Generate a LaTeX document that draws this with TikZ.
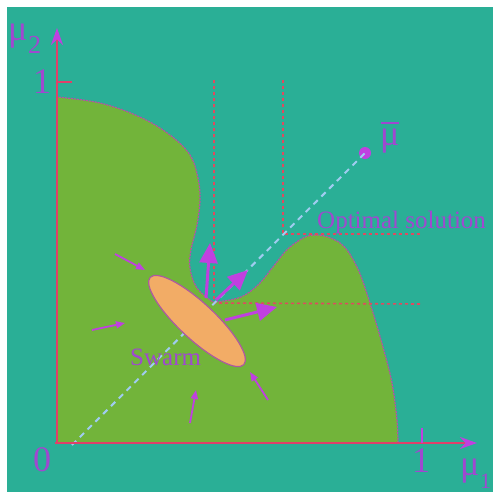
\documentclass[tikz,border=0pt]{standalone}
\usepackage{fontspec}
\setmainfont{Liberation Serif}
\usetikzlibrary{arrows.meta}
\definecolor{bgteal}{HTML}{2AAF96}
\definecolor{feas}{HTML}{72B43A}
\definecolor{swarmc}{HTML}{F2AC66}
\definecolor{mag}{HTML}{C040E0}
\definecolor{axisred}{HTML}{E0406A}
\definecolor{dashred}{HTML}{E04A60}
\definecolor{diagc}{HTML}{A0CCF0}
\definecolor{txt}{HTML}{A048D0}
\definecolor{edge}{HTML}{B850A8}
\begin{document}
\begin{tikzpicture}[x=1pt,y=-1pt,
  bigarrow/.style={draw=mag, line width=3pt, -{Triangle[length=20pt,width=18pt]}},
  smallarrow/.style={draw=mag, line width=1.8pt, -{Triangle[length=9pt,width=7pt]}},
  guide/.style={draw=dashred, line width=1.6pt, dash pattern=on 3pt off 3pt},
  axisline/.style={draw=axisred, line width=2pt, -{Stealth[length=17pt,width=12pt,color=mag]}},
  lbl/.style={text=txt, inner sep=0pt},
  biglbl/.style={lbl, font=\fontsize{36}{40}\selectfont},
  midlbl/.style={lbl, font=\fontsize{25}{30}\selectfont},
  sublbl/.style={lbl, font=\fontsize{26}{30}\selectfont},
]
\useasboundingbox (0,0) rectangle (493,493);
\fill[white] (0,0) rectangle (493,493);
\fill[bgteal] (7,7) rectangle (493,492);

% feasible region
\draw[fill=feas, draw=edge, line width=1.2pt, dash pattern=on 2pt off 1pt]
  (57,443) -- (57,97)
  -- plot[smooth, tension=0.6] coordinates {(57,97) (100,103) (140,117) (170,135) (190,155) (198,178) (200,200) (197,225) (191,250) (190,268) (197,288) (213,302)}
  -- plot[smooth, tension=0.6] coordinates {(213,302) (230,300) (245,295) (260,283) (273,267) (290,247) (313,235) (340,243) (357,267) (370,303) (383,347) (392,383) (397,420) (398,443)}
  -- cycle;

% guide lines
\coordinate (v1t) at (214,80);
\coordinate (v1b) at (214,303);
\coordinate (v2t) at (283,80);
\coordinate (v2b) at (283,234);
\coordinate (h1e) at (422,234);
\coordinate (h2e) at (421,304);
\draw[guide] (v1t) -- (v1b) -- (h2e);
\draw[guide] (v2t) -- (v2b) -- (h1e);

% diagonal to ideal point
\coordinate (o) at (72,445);
\node[circle, fill=mag, inner sep=0pt, minimum size=12pt] (ideal) at (365,153) {};
\draw[draw=diagc, line width=2pt, dash pattern=on 6pt off 5pt] (o) -- (ideal.center);

% swarm
\draw[fill=swarmc, draw=edge!80!gray, line width=1.2pt, shift={(197,321)}, rotate=-43]
  (0,0) ellipse [x radius=64pt, y radius=18pt];

% big arrows
\coordinate (a1s) at (206,298); \coordinate (a1e) at (210,243);
\coordinate (a2s) at (216,300); \coordinate (a2e) at (248,270);
\coordinate (a3s) at (225,320); \coordinate (a3e) at (277,307);
\draw[bigarrow] (a1s) -- (a1e);
\draw[bigarrow] (a2s) -- (a2e);
\draw[bigarrow] (a3s) -- (a3e);

% small arrows
\coordinate (s1s) at (115,254); \coordinate (s1e) at (145,270);
\coordinate (s2s) at (92,330);  \coordinate (s2e) at (125,323);
\coordinate (s3s) at (190,423); \coordinate (s3e) at (196,390);
\coordinate (s4s) at (268,400); \coordinate (s4e) at (250,372);
\draw[smallarrow] (s1s) -- (s1e);
\draw[smallarrow] (s2s) -- (s2e);
\draw[smallarrow] (s3s) -- (s3e);
\draw[smallarrow] (s4s) -- (s4e);

% axes
\coordinate (O) at (57,443);
\coordinate (ytip) at (57,28);
\coordinate (xtip) at (477,443);
\draw[axisline] (O) -- (ytip);
\draw[axisline] (55,443) -- (xtip);
\draw[draw=axisred, line width=2pt] (57,82) -- (72,82);
\draw[draw=mag, line width=2pt] (422,428) -- (422,443);

% labels
\node[biglbl] (zero) at (42,460) {0};
\node[biglbl] (oney) at (42,82) {1};
\node[biglbl] (onex) at (421,461) {1};
\node[biglbl, anchor=base west] (mu2) at (8,40) {μ};
\node[sublbl, anchor=base west] (mu2s) at (28,53) {2};
\node[biglbl, anchor=base west] (mu1) at (460,475) {μ};
\node[lbl, font=\fontsize{22}{26}\selectfont, anchor=base west] (mu1s) at (480,488) {1};
\node[biglbl, anchor=base west] (mubar) at (380,145) {μ};
\draw[draw=txt, line width=2pt] (381,123) -- (399,123);
\node[midlbl, anchor=base west] (opt) at (317,228) {Optimal solution};
\node[midlbl, anchor=base west] (swarm) at (130,365) {Swarm};
\end{tikzpicture}
\end{document}
